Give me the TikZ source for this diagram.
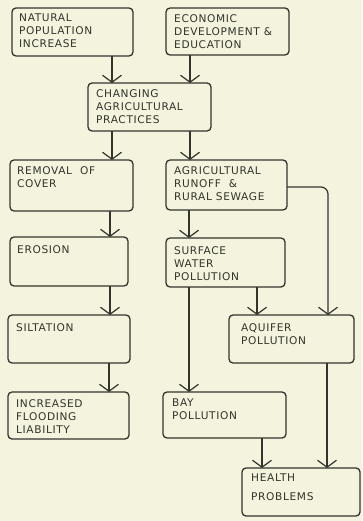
\documentclass[tikz,border=0pt]{standalone}
\usepackage{fontspec}
\setmainfont{DejaVu Sans}[LetterSpace=6]
\usetikzlibrary{arrows.meta}
\definecolor{paper}{RGB}{244,243,222}
\definecolor{ink}{RGB}{52,52,44}
\tikzset{
  box/.style={draw=ink, line width=1.3pt, rounded corners=4pt, inner sep=0pt, outer sep=0pt},
  txt/.style={anchor=north west, inner sep=0pt, align=left, text=ink,
              font=\fontsize{10.6}{13}\selectfont},
  flow/.style={draw=ink, line width=1.2pt, -{Straight Barb[length=7pt,width=19pt]}}
}
\begin{document}
\begin{tikzpicture}[x=1pt,y=-1pt]
\fill[paper] (0,0) rectangle (362,521);
\useasboundingbox (0,0) rectangle (362,521);

% boxes: centre, width, height
\node[box, minimum width=121pt, minimum height=48pt] (nat) at (72.5,32) {};
\node[box, minimum width=123pt, minimum height=47pt] (eco) at (227.5,31.5) {};
\node[box, minimum width=123pt, minimum height=48pt] (chg) at (149.5,107) {};
\node[box, minimum width=123pt, minimum height=51pt] (rem) at (71.5,185.5) {};
\node[box, minimum width=121pt, minimum height=50pt] (agr) at (226.5,185) {};
\node[box, minimum width=118pt, minimum height=49pt] (ero) at (69,261.5) {};
\node[box, minimum width=119pt, minimum height=49pt] (sur) at (225.5,262.5) {};
\node[box, minimum width=122pt, minimum height=48pt] (sil) at (69,339) {};
\node[box, minimum width=125pt, minimum height=48pt] (aqu) at (291.5,339) {};
\node[box, minimum width=121pt, minimum height=47pt] (inc) at (68.5,415.5) {};
\node[box, minimum width=123pt, minimum height=46pt] (bay) at (224.5,415) {};
\node[box, minimum width=118pt, minimum height=48pt] (hea) at (301,492) {};

% labels
\node[txt] at ([shift={(7,6)}]nat.north west) {NATURAL\\POPULATION\\INCREASE};
\node[txt] at ([shift={(8,6)}]eco.north west) {ECONOMIC\\DEVELOPMENT \&\\EDUCATION};
\node[txt] at ([shift={(8,6)}]chg.north west) {CHANGING\\AGRICULTURAL\\PRACTICES};
\node[txt] at ([shift={(7,6)}]rem.north west) {REMOVAL\ \ OF\\COVER};
\node[txt] at ([shift={(8,6)}]agr.north west) {AGRICULTURAL\\RUNOFF \ \&\\RURAL SEWAGE};
\node[txt] at ([shift={(7,8)}]ero.north west) {EROSION};
\node[txt] at ([shift={(8,8)}]sur.north west) {SURFACE\\WATER\\POLLUTION};
\node[txt] at ([shift={(8,8)}]sil.north west) {SILTATION};
\node[txt] at ([shift={(12,8)}]aqu.north west) {AQUIFER\\POLLUTION};
\node[txt] at ([shift={(8,7)}]inc.north west) {INCREASED\\FLOODING\\LIABILITY};
\node[txt] at ([shift={(9,7)}]bay.north west) {BAY\\POLLUTION};
\node[txt, font=\fontsize{10.6}{19}\selectfont] at ([shift={(9,6)}]hea.north west) {HEALTH\\PROBLEMS};

% connectors
\draw[flow] (112,0 |- nat.south) -- (112,0 |- chg.north);
\draw[flow] (190,0 |- eco.south) -- (190,0 |- chg.north);
\draw[flow] (112,0 |- chg.south) -- (112,0 |- rem.north);
\draw[flow] (190,0 |- chg.south) -- (190,0 |- agr.north);
\draw[flow] (110,0 |- rem.south) -- (110,0 |- ero.north);
\draw[flow] (189,0 |- agr.south) -- (189,0 |- sur.north);
\draw[flow] (110,0 |- ero.south) -- (110,0 |- sil.north);
\draw[flow] (257,0 |- sur.south) -- (257,0 |- aqu.north);
\draw[flow, rounded corners=7pt] (agr.east |- 0,187) -- (328,187) -- (328,0 |- aqu.north);
\draw[flow] (189,0 |- sur.south) -- (189,0 |- bay.north);
\draw[flow] (109,0 |- sil.south) -- (109,0 |- inc.north);
\draw[flow] (262,0 |- bay.south) -- (262,0 |- hea.north);
\draw[flow] (327,0 |- aqu.south) -- (327,0 |- hea.north);
\end{tikzpicture}
\end{document}
